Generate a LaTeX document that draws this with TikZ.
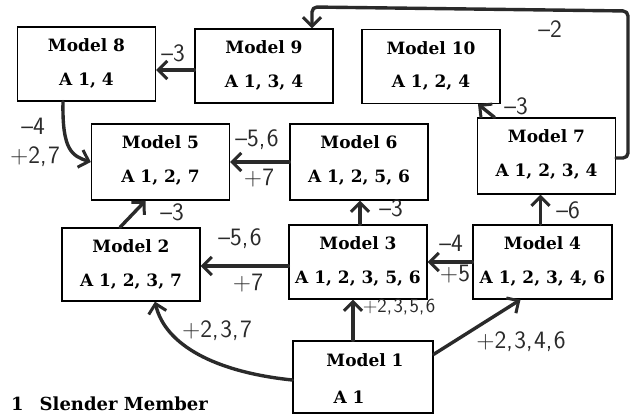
\documentclass[tikz,border=0pt]{standalone}
\usepackage{fontspec}
\setmainfont{DejaVu Serif}
\usetikzlibrary{arrows.meta}
\definecolor{pen}{HTML}{2A2A2A}
\tikzset{
  box/.style={draw=black, line width=1.3pt, inner sep=0pt,
    minimum width=138pt, minimum height=74pt},
  ttl/.style={font=\bfseries\fontsize{17}{19}\selectfont, inner sep=0pt},
  bdy/.style={font=\bfseries\fontsize{17}{19}\selectfont, inner sep=0pt},
  conn/.style={draw=pen, line width=3.4pt, line cap=round, line join=round,
    -{Straight Barb[length=9pt,width=18pt,line width=3pt]}},
  hand/.style={font=\sffamily\fontsize{25}{25}\selectfont, text=pen, inner sep=0pt},
  small/.style={font=\sffamily\fontsize{20}{20}\selectfont, text=pen, inner sep=0pt},
}
\newcommand\cm{,\hspace{1.5pt}}
\begin{document}
\begin{tikzpicture}[x=1pt,y=-1pt]
\useasboundingbox (0,0) rectangle (631,417);

% model boxes
\node[box] (m8) at (86.5,64) {};
\node[box] (m9) at (264,66) {};
\node[box] (m10) at (431,66.5) {};
\node[box, minimum height=76pt] (m5) at (160.5,162) {};
\node[box, minimum height=76pt] (m6) at (359,162) {};
\node[box, minimum height=76pt] (m7) at (546.5,156) {};
\node[box, minimum height=73pt] (m2) at (131,264.5) {};
\node[box] (m3) at (358,262) {};
\node[box, minimum width=139pt] (m4) at (542.5,262) {};
\node[box, minimum width=140pt, minimum height=72pt] (m1) at (363,377) {};

% box contents
\foreach \m/\t/\b in {m8/Model 8/{A 1, 4}, m9/Model 9/{A 1, 3, 4},
    m10/Model 10/{A 1, 2, 4}, m5/Model 5/{A 1, 2, 7}, m6/Model 6/{A 1, 2, 5, 6},
    m7/Model 7/{A 1, 2, 3, 4}, m2/Model 2/{A 1, 2, 3, 7},
    m3/Model 3/{A 1, 2, 3, 5, 6}, m4/Model 4/{A 1, 2, 3, 4, 6}}{
  \node[ttl] (\m t) at ([yshift=-19pt]\m.north) {\t};
  \node[bdy] (\m b) at ([yshift=-54pt]\m.north) {\b};
}
\node[ttl] (m1t) at ([yshift=-20pt,xshift=2pt]m1.north) {Model 1};
\node[bdy] (m1b) at ([yshift=-57pt,xshift=-14pt]m1.north) {A 1};

% legend
\node[ttl, anchor=west, font=\bfseries\fontsize{18}{20}\selectfont] (legend) at (11,404) {1\hspace{16pt}Slender Member};

% connectors
\draw[conn] (m9.west |- 0,70) coordinate (a98) -- (a98 -| m8.east);
\draw[conn] ([xshift=-23.5pt]m8.south) .. controls (62,150) and (72,156) .. (m5.west);
\draw[conn] (m6.west) -- (m5.east);
\draw[conn] ([xshift=-11pt]m2.north) -- ([xshift=-15pt]m5.south);
\coordinate (a32) at ([yshift=-4pt]m3.west);
\draw[conn] (a32) -- (a32 -| m2.east);
\draw[conn] (m4.west) -- (m4.west -| m3.east);
\draw[conn] ([xshift=2pt]m3.north) -- ([xshift=2pt]m3.north |- m6.south);
\draw[conn] ([xshift=-2pt]m4.north) -- ([xshift=-2pt]m4.north |- m7.south);
\draw[conn] ([xshift=-52pt]m7.north) -- ([xshift=47pt]m10.south);
\coordinate (c2) at (628,11);
\coordinate (c3) at (312,7);
\draw[conn, rounded corners=5pt] ([yshift=-2pt]m7.east) -- ([yshift=-2pt]m7.east -| c2)
  -- (c2) -- (c3) -- (c3 |- m9.north);
\draw[conn] ([yshift=-3pt]m1.west) .. controls (215,372) and (165,345) .. ([xshift=24pt]m2.south);
\draw[conn] ([xshift=-10pt]m1.north) -- ([xshift=-10pt]m1.north |- m3.south);
\draw[conn] ([yshift=-14pt]m1.north east) -- ([xshift=-22pt]m4.south);

% connector labels
\node[hand] (l1) at (173,53) {--3};
\node[hand] (l2) at (33,126) {--4};
\node[hand] (l3) at (35,157) {+2\cm7};
\node[hand] (l4) at (257,140) {--5\cm6};
\node[hand] (l5) at (259,178) {+7};
\node[hand] (l6) at (172,212) {--3};
\node[hand] (l7) at (240,239) {--5\cm6};
\node[hand] (l8) at (248,283) {+7};
\node[hand] (l9) at (217,331) {+2\cm3\cm7};
\node[hand] (l10) at (391,208) {--3};
\node[hand] (l11) at (568,210) {--6};
\node[hand] (l12) at (451,243) {--4};
\node[hand] (l13) at (455,274) {+5};
\node[small] (l14) at (399,307) {+2\cm3\cm5\cm6};
\node[hand] (l15) at (521,342) {+2\cm3\cm4\cm6};
\node[hand] (l16) at (516,106) {--3};
\node[hand] (l17) at (550,29) {--2};
\end{tikzpicture}
\end{document}
